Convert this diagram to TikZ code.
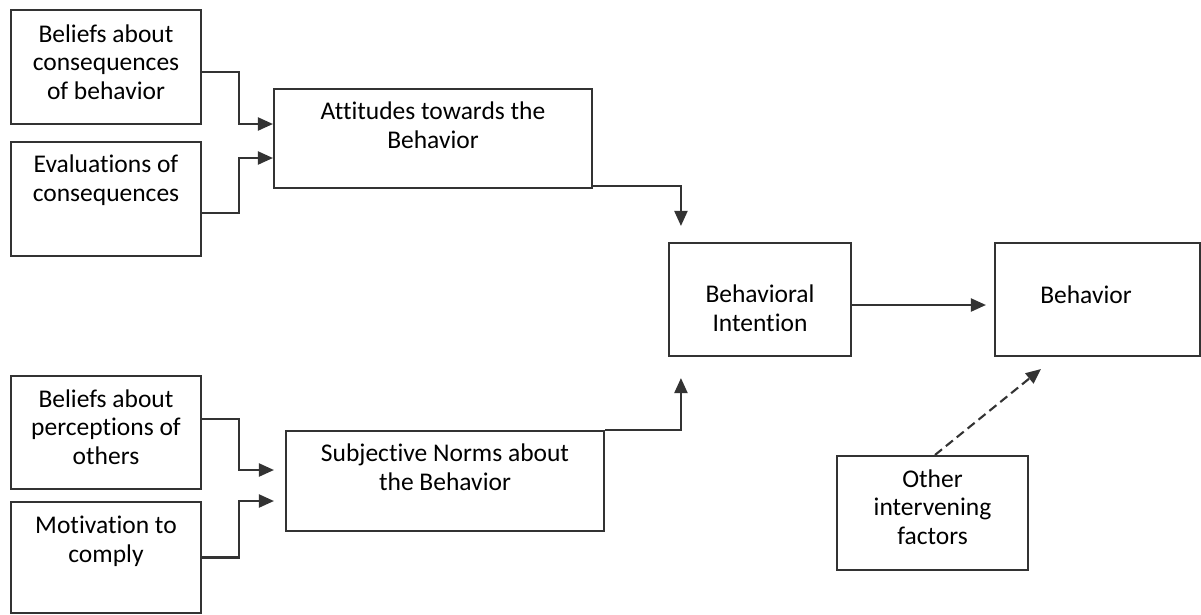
\documentclass[tikz,border=0pt]{standalone}
\usepackage{fontspec}
\setmainfont{Carlito}[Ligatures={NoCommon}]
\usetikzlibrary{arrows.meta,fit}
\begin{document}
\begin{tikzpicture}[x=1pt,y=-1pt,
  box/.style={draw=black!80, line width=2.1pt, inner sep=0pt},
  txt/.style={font=\fontsize{25.5}{28.5}\selectfont, align=center, inner sep=0pt, anchor=base, text=black},
  arr/.style={draw=black!80, line width=2.1pt, -{Triangle[length=15pt,width=13pt]}}]
\useasboundingbox (0,0) rectangle (1201,614);
% boxes
\node[box, fit={(11,10)(201,124)}] (b1) {};
\node[box, fit={(11,142)(201,256)}] (b2) {};
\node[box, fit={(274,89)(592,188)}] (att) {};
\node[box, fit={(669,243)(851,356)}] (bi) {};
\node[box, fit={(995,243)(1200,356)}] (beh) {};
\node[box, fit={(11,376)(201,489)}] (b6) {};
\node[box, fit={(11,502)(201,613)}] (b7) {};
\node[box, fit={(286,431)(604,531)}] (sub) {};
\node[box, fit={(837,456)(1028,570)}] (oth) {};
% texts (anchor = baseline of the last line)
\node[txt] (t1) at (106,99) {Beliefs about\\consequences\\of behavior};
\node[txt] (t2) at (106,201) {Evaluations of\\consequences};
\node[txt] (t3) at (433,148) {Attitudes towards the\\Behavior};
\node[txt] (t4) at (760,331) {Behavioral\\Intention};
\node[txt] (t5) at (1086,303) {Behavior};
\node[txt] (t6) at (106,464) {Beliefs about\\perceptions of\\others};
\node[txt] (t7) at (106,562) {Motivation to\\comply};
\node[txt] (t8) at (445,490) {Subjective Norms about\\the Behavior};
\node[txt] (t9) at (932.5,544) {Other\\intervening\\factors};
% connectors
\draw[arr] ([yshift=-5pt]b1.east) -- ++(37,0) |- ([yshift=14.5pt]att.west);
\draw[arr] ([yshift=-14pt]b2.east) -- ++(37,0) |- ([yshift=-19.5pt]att.west);
\draw[arr, shorten >=11pt] ([yshift=13.5pt]b6.east) -- ++(37,0) |- ([yshift=11pt]sub.west);
\draw[arr, shorten >=11pt] (b7.east) -- ++(37,0) |- ([yshift=-20pt]sub.west);
\draw[arr, shorten >=16pt] ([yshift=3pt]att.south east) -| ([xshift=13pt]bi.north west);
\draw[arr, shorten >=21pt] (sub.north east) -| ([xshift=13pt]bi.south west);
\draw[arr, shorten >=8pt] ([yshift=-5.5pt]bi.east) -- ([yshift=-5.5pt]beh.west);
\draw[arr, dash pattern=on 9pt off 5pt] ([xshift=2.5pt]oth.north) -- ([xshift=47pt,yshift=-12pt]beh.south west);
\end{tikzpicture}
\end{document}
